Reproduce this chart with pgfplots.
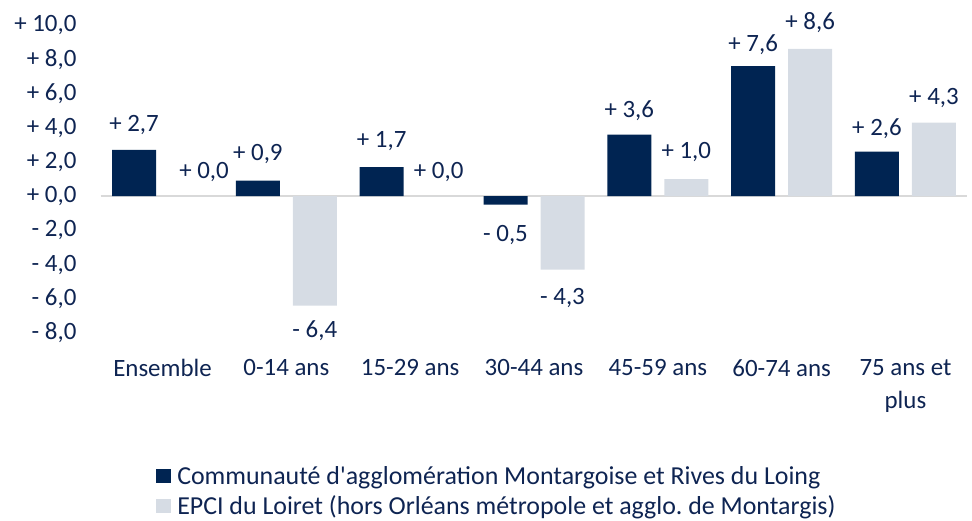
\documentclass[border=0pt]{standalone}
\usepackage{fontspec}
\setmainfont{Carlito}[Ligatures=TeXOff]
\usepackage{pgfplots}
\pgfplotsset{compat=1.18}
\usepackage{pgfplotstable}
\frenchspacing
\definecolor{navy}{RGB}{0,36,82}
\definecolor{lightb}{RGB}{214,220,228}
\definecolor{txt}{RGB}{14,36,82}
\definecolor{zline}{RGB}{217,217,217}
\newcommand\fs{\fontsize{25}{33}\selectfont}
\newcommand\fl{\fontsize{26}{31.5}\selectfont}

\pgfplotstableread[col sep=semicolon]{
x;y;lab;dx;dy
0;2.7;+~2,7;0;25
1;0.9;+~0,9;0;27
2;1.7;+~1,7;0;26
3;-0.5;-~0,5;0;-30
4;3.6;+~3,6;0;24
5;7.6;+~7,6;0;21
6;2.6;+~2,6;0;23
}\darktab

\pgfplotstableread[col sep=semicolon]{
x;y;lab;dx;dy
0;0.0;+~0,0;13;24
1;-6.4;-~6,4;0;-25
2;0.0;+~0,0;0;24
3;-4.3;-~4,3;0;-28
4;1.0;+~1,0;0;27
5;8.6;+~8,6;0;26
6;4.3;+~4,3;0;25
}\lighttab

\begin{document}
\begin{tikzpicture}
\useasboundingbox (-100.6bp,-188bp) rectangle (871.4bp,333bp);
\begin{axis}[
  at={(0,0)}, anchor=south west,
  scale only axis,
  width=866.8bp, height=308bp,
  xmin=-0.5, xmax=6.5,
  ymin=-8, ymax=10,
  axis line style={draw=none},
  tick style={draw=none},
  ybar=13bp, bar width=44bp,
  xtick={0,...,6},
  xticklabels={Ensemble,0-14 ans,15-29 ans,30-44 ans,45-59 ans,60-74 ans,{75 ans et\\plus}},
  ytick={-8,-6,...,10},
  yticklabels={{-~8,0},{-~6,0},{-~4,0},{-~2,0},{+~0,0},{+~2,0},{+~4,0},{+~6,0},{+~8,0},{+~10,0}},
  major tick length=0pt,
  xticklabel style={font=\fs, text=txt, anchor=north, inner sep=0pt, yshift=-26bp, align=center},
  yticklabel style={font=\fs, text=txt, anchor=east, inner sep=0pt, xshift=-24bp},
  nodes near coords,
  point meta=explicit symbolic,
  visualization depends on={\thisrow{dx} \as \dx},
  visualization depends on={\thisrow{dy} \as \dy},
  every node near coord/.append style={font=\fs, text=txt, anchor=center, inner sep=0pt, xshift=\dx bp, yshift=\dy bp},
  legend style={at={(axis description cs:0.064,-0.426)}, anchor=north west, draw=none, fill=none,
    font=\fl, text=txt, row sep=6bp, inner sep=0pt, cells={anchor=west}},
  legend cell align=left,
  legend image code/.code={\fill[#1] (0bp,-7bp) rectangle (15bp,7bp); \path (19bp,0bp);},
  clip=false,
]
\draw[zline, line width=1.5bp] (axis cs:-0.5,0) -- (axis cs:6.5,0);
\addplot[fill=navy, draw=none] table[x=x, y=y, meta=lab] {\darktab};
\addplot[fill=lightb, draw=none] table[x=x, y=y, meta=lab] {\lighttab};
\legend{Communauté d'agglomération Montargoise et Rives du Loing, EPCI du Loiret (hors Orléans métropole et agglo. de Montargis)}
\end{axis}
\end{tikzpicture}
\end{document}
